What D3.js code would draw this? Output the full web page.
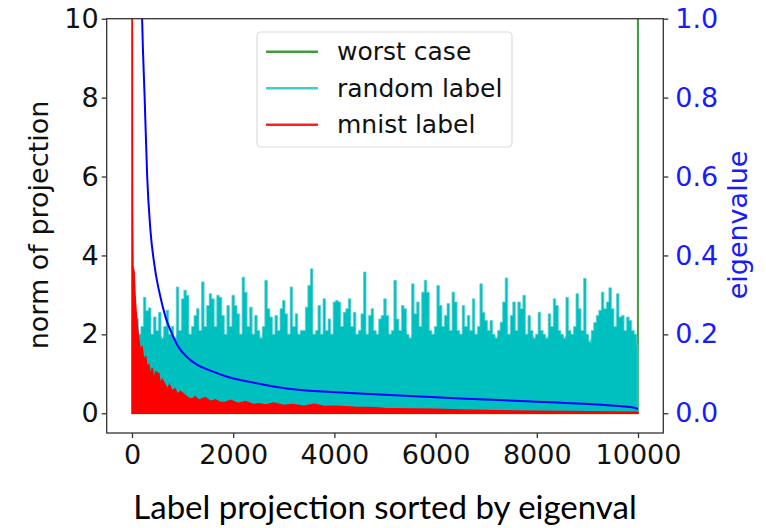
<!DOCTYPE html>
<html>
<head>
<meta charset="utf-8">
<script src="https://cdn.jsdelivr.net/npm/d3@7"></script>
<style>
  body { margin: 0; background: #fff; }
  text { font-family: "DejaVu Sans", sans-serif; }
</style>
</head>
<body>
<script>
const w = 766;
const h = 528;

// random label: envelope of the cyan trace, one value every 50 indices (0..10000)
const randomStep = 50;
const randomLabel = [
  2.3, 2.2, 2.4, 2.0, 2.2, 2.94, 2.6, 2.67, 2.0, 2.44,
  2.1, 2.56, 1.9, 2.2, 2.61, 2.0, 2.2, 1.9, 3.2, 2.1,
  2.9, 3.12, 2.99, 2.0, 2.2, 2.48, 2.65, 2.1, 3.33, 2.2,
  2.73, 3.03, 2.9, 2.2, 2.99, 2.94, 2.48, 2.0, 2.73, 2.2,
  2.99, 2.73, 2.52, 2.0, 3.45, 3.07, 2.2, 2.69, 2.0, 2.48,
  2.1, 1.9, 2.2, 3.37, 2.65, 2.44, 2.0, 2.48, 2.1, 2.65,
  2.86, 2.52, 2.0, 3.2, 2.2, 2.52, 2.0, 2.1, 2.1, 2.69,
  3.24, 3.66, 2.0, 2.1, 2.73, 2.0, 2.9, 2.1, 2.39, 2.0,
  2.82, 2.86, 2.82, 2.2, 2.56, 2.65, 2.9, 2.2, 2.56, 2.0,
  2.1, 2.52, 3.58, 2.0, 2.48, 2.65, 2.1, 2.0, 2.39, 2.48,
  2.9, 2.48, 2.0, 2.1, 3.37, 2.39, 2.1, 2.73, 2.65, 2.0,
  1.9, 3.28, 2.52, 2.82, 2.2, 3.07, 3.37, 3.07, 2.1, 2.0,
  2.2, 3.24, 2.73, 2.2, 2.48, 2.78, 2.1, 3.07, 2.82, 2.1,
  2.0, 2.73, 2.2, 2.48, 2.1, 2.9, 2.0, 2.2, 3.28, 2.56,
  2.35, 2.1, 2.35, 2.0, 1.9, 2.1, 2.31, 2.82, 3.43, 2.0,
  2.48, 2.82, 2.1, 2.82, 2.65, 2.99, 2.0, 2.48, 2.1, 1.9,
  2.0, 2.56, 2.1, 2.0, 1.9, 2.52, 2.2, 2.9, 2.73, 2.1,
  2.0, 1.9, 2.94, 2.1, 2.0, 2.2, 3.03, 2.65, 2.1, 3.42,
  2.0, 1.8, 2.1, 2.3, 2.48, 2.61, 3.07, 2.65, 2.82, 3.18,
  2.65, 2.2, 3.03, 2.44, 2.48, 2.1, 2.44, 2.35, 2.1, 2.0,
  1.72
];

// mnist label: envelope of the red trace
const mnistX = [0, 5, 10, 20, 40, 60, 80, 100, 130, 170, 200, 234, 270, 300, 330, 365, 400, 431, 470, 530,
  560, 600, 662, 700, 740, 793, 850, 900, 960, 1056, 1120, 1188, 1250, 1320, 1451, 1550, 1650, 1750, 1846, 1950,
  2100, 2250, 2400, 2504, 2650, 2800, 3000, 3162, 3400, 3600, 3800, 4000, 4400, 4800, 5000, 5500, 6000, 6500,
  7000, 7500, 8000, 8500, 9000, 9500, 9999];
const mnistY = [30, 12, 5.2, 3.7, 3.6, 3.0, 2.6, 2.3, 1.9, 1.55, 1.7, 1.3, 1.45, 1.08, 1.25, 0.95, 1.15, 0.85, 1.05, 1.0,
  0.75, 0.85, 0.7, 0.6, 0.72, 0.57, 0.62, 0.48, 0.55, 0.45, 0.38, 0.36, 0.42, 0.33, 0.4, 0.3, 0.34, 0.27, 0.28, 0.33,
  0.25, 0.3, 0.22, 0.24, 0.21, 0.26, 0.2, 0.22, 0.18, 0.23, 0.17, 0.18, 0.15, 0.14, 0.12, 0.11, 0.1, 0.085,
  0.07, 0.06, 0.05, 0.045, 0.04, 0.03, 0.026];

// worst case: zero except the last index
const worstX = [0, 9998, 9999];
const worstY = [0, 0, 12];

// eigenvalues (right axis)
const eigX = [0, 100, 150, 200, 250, 300, 365, 450, 563, 660, 760, 900, 1090, 1300, 1550, 1900, 2340, 2800, 3330,
  4200, 5300, 6600, 7900, 9200, 9880, 9999];
const eigY = [10, 2.2, 1.4, 1.0, 0.8, 0.6, 0.463, 0.37, 0.294, 0.245, 0.21, 0.172, 0.142, 0.122, 0.108, 0.092,
  0.079, 0.068, 0.059, 0.052, 0.045, 0.037, 0.03, 0.022, 0.015, 0.011];

const leftTicks = [0, 2, 4, 6, 8, 10];
const rightTicks = [0, 0.2, 0.4, 0.6, 0.8, 1.0];
const xTicks = [0, 2000, 4000, 6000, 8000, 10000];
const legendNames = ["worst case", "random label", "mnist label"];
const legendColours = ["#3f9b3f", "#3fcccc", "#ff2020"];

const plotLeft = 106.7, plotRight = 663.3, plotTop = 18.7, plotBottom = 433;

const x = d3.scaleLinear().domain([-500, 10500]).range([plotLeft, plotRight]);
const y = d3.scaleLinear().domain([-0.5, 10]).range([plotBottom, plotTop]);
const y2 = d3.scaleLinear().domain([-0.05, 1.0]).range([plotBottom, plotTop]);

let svg = d3.select("body").append("svg")
  .attr("width", w)
  .attr("height", h);

svg.append("clipPath").attr("id", "plot")
  .append("rect")
  .attr("x", plotLeft).attr("y", plotTop)
  .attr("width", plotRight - plotLeft).attr("height", plotBottom - plotTop);

let g = svg.append("g").attr("clip-path", "url(#plot)");

// worst case
g.append("path")
  .attr("d", d3.line().x((d, i) => x(worstX[i])).y(d => y(d))(worstY))
  .attr("fill", "none")
  .attr("stroke", "#3f9b3f")
  .attr("stroke-width", 2);

// random label (dense trace -> filled envelope with thin spikes)
g.append("path")
  .attr("d", d3.area().x((d, i) => x(i * randomStep)).y0(y(0)).y1(d => y(Math.min(d, 2.05)))(randomLabel))
  .attr("fill", "#00bfbf");
g.append("path")
  .attr("d", d3.area().x((d, i) => x(i * randomStep)).y0(y(0)).y1(d => y(d)).curve(d3.curveStep)(randomLabel))
  .attr("fill", "#00bfbf")
  .attr("stroke", "#60d2d2")
  .attr("stroke-width", 0.8);

// mnist label
g.append("path")
  .attr("d", d3.area().x((d, i) => x(mnistX[i])).y0(y(0)).y1(d => y(d))(mnistY))
  .attr("fill", "#ff0000")
  .attr("stroke", "#ff0000")
  .attr("stroke-width", 1.5);

// eigenvalue curve
g.append("path")
  .attr("d", d3.line().x((d, i) => x(eigX[i])).y(d => y2(d)).curve(d3.curveMonotoneX)(eigY))
  .attr("fill", "none")
  .attr("stroke", "#0000ff")
  .attr("stroke-width", 2);

// spines
svg.append("rect")
  .attr("x", plotLeft).attr("y", plotTop)
  .attr("width", plotRight - plotLeft).attr("height", plotBottom - plotTop)
  .attr("fill", "none")
  .attr("stroke", "#333")
  .attr("stroke-width", 1.3);

// axes
let axL = svg.append("g").attr("transform", "translate(" + plotLeft + ",0)")
  .call(d3.axisLeft(y).tickValues(leftTicks).tickFormat(d3.format("d")).tickSize(5).tickPadding(3));
let axR = svg.append("g").attr("transform", "translate(" + plotRight + ",0)")
  .call(d3.axisRight(y2).tickValues(rightTicks).tickFormat(d3.format(".1f")).tickSize(5).tickPadding(7));
let axB = svg.append("g").attr("transform", "translate(0," + plotBottom + ")")
  .call(d3.axisBottom(x).tickValues(xTicks).tickFormat(d3.format("d")).tickSize(5).tickPadding(7));

[axL, axR, axB].forEach(a => {
  a.select(".domain").remove();
  a.selectAll("line").attr("stroke", "#333").attr("stroke-width", 1.3);
  a.selectAll("text").style("font-family", "DejaVu Sans").style("font-size", "27px").attr("fill", "#111");
});
axR.selectAll("text").attr("fill", "#1a1aff");

// axis labels
svg.append("text")
  .attr("transform", "translate(48," + 225 + ") rotate(-90)")
  .style("text-anchor", "middle")
  .style("font-size", "27px")
  .attr("fill", "#111")
  .text("norm of projection");

svg.append("text")
  .attr("transform", "translate(747," + 225 + ") rotate(-90)")
  .style("text-anchor", "middle")
  .style("font-size", "27px")
  .attr("fill", "#1a1aff")
  .text("eigenvalue");

svg.append("text")
  .attr("x", 385).attr("y", 519)
  .style("text-anchor", "middle")
  .style("font-family", "Lato")
  .style("font-size", "33px")
  .attr("fill", "#000")
  .text("Label projection sorted by eigenval");

// legend
let lg = svg.append("g");
lg.append("rect")
  .attr("x", 257).attr("y", 32).attr("width", 255).attr("height", 115)
  .attr("rx", 4)
  .attr("fill", "#fff").attr("fill-opacity", 0.85)
  .attr("stroke", "#dcdcdc").attr("stroke-width", 1.2);

lg.selectAll(".legLine")
  .data(legendNames)
  .enter()
  .append("line")
  .attr("class", "legLine")
  .attr("x1", 266).attr("x2", 318)
  .attr("y1", (d, i) => 51.7 + i * 36.5)
  .attr("y2", (d, i) => 51.7 + i * 36.5)
  .attr("stroke", (d, i) => legendColours[i])
  .attr("stroke-width", 2.5);

lg.selectAll(".legText")
  .data(legendNames)
  .enter()
  .append("text")
  .attr("class", "legText")
  .attr("x", 337)
  .attr("y", (d, i) => 51.7 + i * 36.5)
  .attr("dy", "0.35em")
  .style("font-size", "25px")
  .attr("fill", "#111")
  .text(d => d);
</script>
</body>
</html>
